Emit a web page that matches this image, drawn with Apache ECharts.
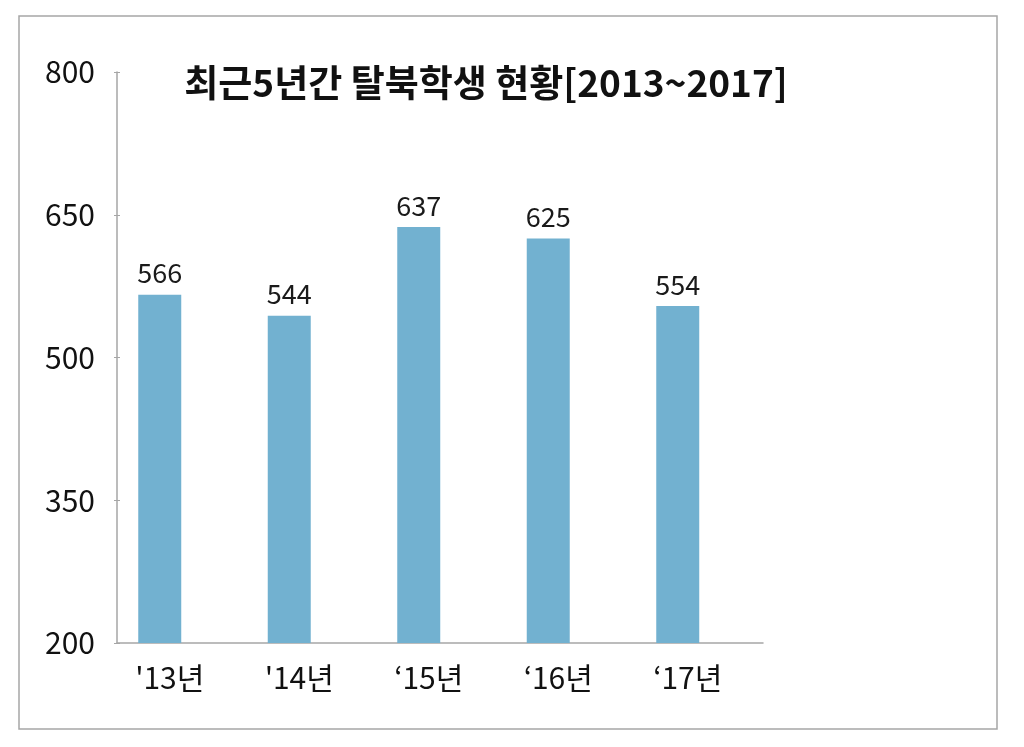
<!DOCTYPE html>
<html>
<head>
<meta charset="utf-8">
<script src="https://cdn.jsdelivr.net/npm/echarts@6/dist/echarts.min.js"></script>
<style>
  html, body { margin: 0; padding: 0; background: #fff; }
  #main { width: 1024px; height: 747px; }
</style>
</head>
<body>
<div id="main"></div>
<script>
var years = ["'13년", "'14년", "‘15년", "‘16년", "‘17년"];
var students = [566, 544, 637, 625, 554];
var yTicks = [200, 350, 500, 650, 800];

var chartDom = document.getElementById('main');
var myChart = echarts.init(chartDom);
var font = '"Noto Sans CJK KR", "Noto Sans", sans-serif';
var axisGray = '#a6a6a6';

// grid 0 holds the bars (shifted slightly left like the original),
// grid 1 holds the visible axis lines and y labels
var option = {
    backgroundColor: '#fff',
    animation: false,
    textStyle: { fontFamily: font },
    title: {
        text: '최근5년간 탈북학생 현황[2013~2017]',
        left: 481,
        top: 59,
        textAlign: 'center',
        textStyle: { fontSize: 37, fontWeight: 'bold', color: '#111', fontFamily: font }
    },
    graphic: [{
        type: 'rect',
        shape: { x: 19, y: 16, width: 978, height: 713 },
        style: { fill: 'none', stroke: axisGray, lineWidth: 1.5 },
        silent: true
    }],
    grid: [
        { left: 95, top: 72, right: 281.5, bottom: 104 },
        { left: 117, top: 72, right: 261, bottom: 104 }
    ],
    xAxis: [{
        type: 'category',
        gridIndex: 0,
        data: years,
        axisLine: { show: false },
        axisTick: { show: false },
        axisLabel: {
            fontSize: 30, color: '#111', margin: 20, fontFamily: font,
            padding: [0, 0, 0, 20]
        }
    }, {
        type: 'category',
        gridIndex: 1,
        data: years,
        axisLine: { lineStyle: { color: axisGray, width: 1.5 } },
        axisTick: { show: false },
        axisLabel: { show: false }
    }],
    yAxis: [{
        type: 'value',
        gridIndex: 0,
        min: yTicks[0],
        max: yTicks[yTicks.length - 1],
        interval: 150,
        show: false
    }, {
        type: 'value',
        gridIndex: 1,
        position: 'left',
        min: yTicks[0],
        max: yTicks[yTicks.length - 1],
        interval: 150,
        splitLine: { show: false },
        axisLine: { show: true, lineStyle: { color: axisGray, width: 1.5 } },
        axisTick: { show: true, length: 3, lineStyle: { color: axisGray } },
        axisLabel: { fontSize: 30, color: '#111', margin: 22, fontFamily: font }
    }, {
        type: 'value',
        gridIndex: 1,
        position: 'left',
        min: yTicks[0],
        max: yTicks[yTicks.length - 1],
        interval: 150,
        splitLine: { show: false },
        axisLine: { show: false },
        axisTick: { show: true, inside: true, length: 3, lineStyle: { color: axisGray } },
        axisLabel: { show: false }
    }],
    series: [{
        type: 'bar',
        xAxisIndex: 0,
        yAxisIndex: 0,
        data: students,
        barWidth: '33.2%',
        itemStyle: { color: '#72b1d0' },
        label: {
            show: true,
            position: 'top',
            distance: 8,
            fontSize: 27,
            color: '#1a1a1a',
            fontFamily: font
        }
    }]
};

myChart.setOption(option);
</script>
</body>
</html>
